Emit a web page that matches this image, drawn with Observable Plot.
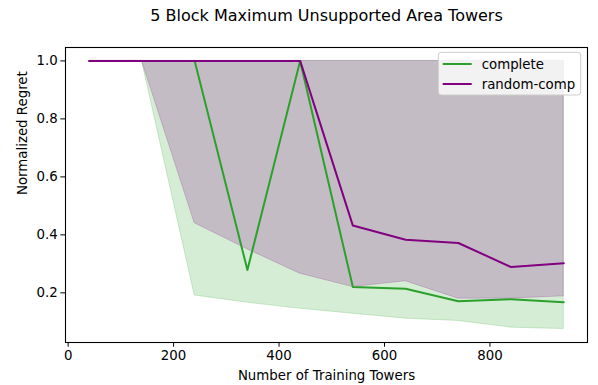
<!DOCTYPE html>
<html>
<head>
<meta charset="utf-8">
<script src="https://cdn.jsdelivr.net/npm/d3@7"></script>
<script src="https://cdn.jsdelivr.net/npm/@observablehq/plot@0.6"></script>
<style>
  html, body { margin: 0; padding: 0; background: white; }
  #chart svg { display: block; }
</style>
</head>
<body>
<div id="chart"></div>
<script>
// ---- data ----
const towers = [40, 140, 240, 340, 440, 540, 640, 740, 840, 940];
const completeMean = [1.0, 1.0, 1.0, 0.279, 1.0, 0.220, 0.214, 0.171, 0.178, 0.168];
const completeLow  = [1.0, 1.0, 0.191, 0.166, 0.145, 0.128, 0.111, 0.103, 0.080, 0.075];
const completeHigh = [1.0, 1.0, 1.0, 1.0, 1.0, 1.0, 1.0, 1.0, 1.0, 1.0];
const randomMean = [1.0, 1.0, 1.0, 1.0, 1.0, 0.432, 0.383, 0.372, 0.289, 0.302];
const randomLow  = [1.0, 1.0, 0.440, 0.350, 0.266, 0.220, 0.240, 0.180, 0.180, 0.188];
const randomHigh = [1.0, 1.0, 1.0, 1.0, 1.0, 1.0, 1.0, 1.0, 1.0, 1.0];
const seriesNames = ["complete", "random-comp"];
const seriesColors = ["#2ca02c", "#800080"];
const xTicks = [0, 200, 400, 600, 800];
const yTicks = [0.2, 0.4, 0.6, 0.8, 1.0];
const title = "5 Block Maximum Unsupported Area Towers";
const xLabel = "Number of Training Towers";
const yLabel = "Normalized Regret";

const complete = towers.map((x, i) => ({x, mean: completeMean[i], lo: completeLow[i], hi: completeHigh[i]}));
const random = towers.map((x, i) => ({x, mean: randomMean[i], lo: randomLow[i], hi: randomHigh[i]}));

const font = "'DejaVu Sans', sans-serif";

const chart = Plot.plot({
  width: 598,
  height: 385,
  marginLeft: 65,
  marginRight: 11,
  marginTop: 47,
  marginBottom: 43,
  style: {fontFamily: font, fontSize: "13.33px", color: "black", background: "white", overflow: "visible"},
  x: {domain: [-5, 985]},
  y: {domain: [0.02875, 1.04625]},
  marks: [
    Plot.areaY(complete, {x: "x", y1: "lo", y2: "hi", fill: seriesColors[0], fillOpacity: 0.2, stroke: seriesColors[0], strokeOpacity: 0.2, strokeWidth: 1}),
    Plot.areaY(random, {x: "x", y1: "lo", y2: "hi", fill: seriesColors[1], fillOpacity: 0.2, stroke: seriesColors[1], strokeOpacity: 0.2, strokeWidth: 1}),
    Plot.line(complete, {x: "x", y: "mean", stroke: seriesColors[0], strokeWidth: 2}),
    Plot.line(random, {x: "x", y: "mean", stroke: seriesColors[1], strokeWidth: 2}),
    Plot.axisX({ticks: xTicks, tickSize: 4.7, tickPadding: 3, tickFormat: d => String(d), label: null, fontSize: 13.33}),
    Plot.axisY({ticks: yTicks, tickSize: 4.7, tickPadding: 3, tickFormat: d3.format(".1f"), label: null, fontSize: 13.33}),
    Plot.frame({stroke: "black", strokeWidth: 1.1}),
    Plot.text([title], {frameAnchor: "top", dy: -32, fontSize: 16, lineAnchor: "middle", fill: "black"}),
    Plot.text([xLabel], {frameAnchor: "bottom", dy: 33.5, fontSize: 13.33, lineAnchor: "middle", fill: "black"}),
    Plot.text([yLabel], {frameAnchor: "left", dx: -42.5, rotate: -90, fontSize: 13.33, lineAnchor: "middle", fill: "black"})
  ]
});

// legend (matplotlib-style box, upper right)
const svg = d3.select(chart);
const lg = svg.append("g").attr("font-family", font).attr("font-size", "13.33px").attr("text-anchor", "start");
lg.append("rect")
  .attr("x", 438.3).attr("y", 52.3).attr("width", 142.4).attr("height", 42.7)
  .attr("rx", 3).attr("fill", "white").attr("fill-opacity", 0.8)
  .attr("stroke", "#cccccc").attr("stroke-width", 1);
seriesNames.forEach((name, i) => {
  const y = 64 + i * 20;
  lg.append("line").attr("x1", 442.7).attr("x2", 471.7).attr("y1", y).attr("y2", y)
    .attr("stroke", seriesColors[i]).attr("stroke-width", 2);
  lg.append("text").attr("x", 481.7).attr("y", y).attr("dy", "0.35em")
    .attr("text-anchor", "start").attr("fill", "black").text(name);
});

document.getElementById("chart").appendChild(chart);
</script>
</body>
</html>
